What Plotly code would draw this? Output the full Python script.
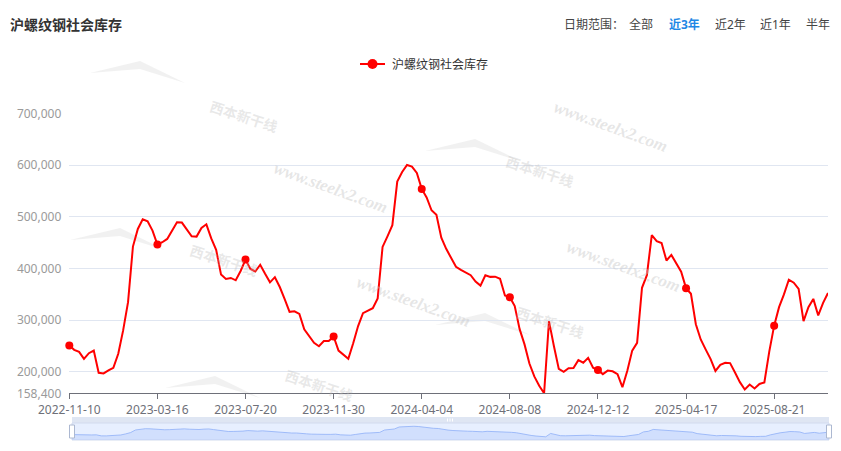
import pandas as pd
import plotly.graph_objects as go

W, H = 841, 451
BODY = 8  # the page body keeps its default 8px margin

# Weekly dates (National Day week 2023-10-05 has no record)
weeks = pd.date_range('2022-11-10', periods=157, freq='7D')
weeks = weeks[weeks != pd.Timestamp('2023-10-05')]
dates = weeks.strftime('%Y-%m-%d').tolist()

# 沪螺纹钢社会库存 (吨)
stock = [
    251000, 242500, 238600, 225000, 236000, 241000, 198000, 196800, 202600, 207700,
    234800, 280000, 334600, 442200, 476300, 495000, 491100, 473100, 446000, 450600,
    457000, 473100, 489200, 488600, 475000, 462200, 461500, 478300, 485300, 458000,
    436000, 388000, 379500, 381500, 377000, 395000, 417000, 399000, 394000, 407000,
    389500, 373000, 383000, 364000, 340500, 316000, 317000, 312000, 282000, 270000,
    256000, 249500, 259500, 259500, 268300, 241000, 233500, 225000, 255200, 288500,
    313500, 318700, 323000, 342000, 441500, 462000, 483500, 568000, 586500, 600000,
    597000, 584500, 553800, 537300, 512500, 503700, 459500, 437800, 419500, 403000,
    397000, 392000, 386800, 374600, 366800, 386800, 383600, 384000, 380000, 347500,
    344300, 327000, 282500, 253000, 216000, 191000, 173000, 158400, 298000, 250000,
    205500, 200000, 207000, 207500, 222500, 217500, 227000, 208000, 203500, 195500,
    202300, 201000, 195500, 170200, 202000, 241000, 256000, 362500, 386800, 464500,
    452800, 449000, 415300, 426000, 410000, 393500, 361800, 351000, 292000, 262500,
    243300, 225000, 201600, 213500, 217300, 216800, 198800, 180000, 165800, 175300,
    167700, 176400, 179400, 239000, 289300, 325000, 349700, 378200, 372300, 360200,
    298000, 325000, 341000, 309000, 333300, 352500,
]

label_step = 18
tick_dates = dates[::label_step]
y_ticks = [158400, 200000, 300000, 400000, 500000, 600000, 700000]
y_text = ['158,400', '200,000', '300,000', '400,000', '500,000', '600,000', '700,000']

range_buttons = ['全部', '近3年', '近2年', '近1年', '半年']
button_x = [627, 667, 713, 758, 804]
active_button = '近3年'

RED = '#ff0000'
FONT = 'Noto Sans, Noto Sans CJK SC, sans-serif'
FW, FH = W - BODY, H - BODY


def px(x):
    # window pixel -> paper fraction
    return (x - BODY) / FW


def py(y):
    return 1 - (y - BODY) / FH


fig = go.Figure()

# main series
fig.add_trace(go.Scatter(
    x=dates, y=stock, mode='lines',
    line=dict(color=RED, width=2),
    cliponaxis=False, showlegend=False,
    hovertemplate='%{x}<br>沪螺纹钢社会库存: %{y:,.0f}<extra></extra>'
))
fig.add_trace(go.Scatter(
    x=tick_dates, y=stock[::label_step], mode='markers',
    marker=dict(color=RED, size=8),
    cliponaxis=False, showlegend=False, hoverinfo='skip'
))

# data shadow in the zoom slider
span = max(stock) - min(stock)
fig.add_trace(go.Scatter(
    x=list(range(len(stock))), y=stock, mode='lines',
    xaxis='x2', yaxis='y2',
    line=dict(color='#8fb0f7', width=0.8),
    fill='tozeroy', fillcolor='rgba(143,176,247,0.25)',
    showlegend=False, hoverinfo='skip'
))

shapes = []
annotations = []

# legend drawn by hand (ECharts style)
shapes.append(dict(type='line', xref='paper', yref='paper',
                   x0=px(360), x1=px(385), y0=py(64), y1=py(64),
                   line=dict(color=RED, width=2)))
shapes.append(dict(type='circle', xref='paper', yref='paper',
                   x0=px(367.5), x1=px(377.5), y0=py(69), y1=py(59),
                   fillcolor=RED, line=dict(color=RED, width=0)))
annotations.append(dict(text='沪螺纹钢社会库存', x=px(390), y=py(64),
                        xref='paper', yref='paper', xanchor='left', yanchor='middle',
                        showarrow=False, font=dict(size=12, color='#333')))

# title
annotations.append(dict(text='<b>沪螺纹钢社会库存</b>', x=px(8), y=py(24),
                        xref='paper', yref='paper', xanchor='left', yanchor='middle',
                        showarrow=False, font=dict(size=14, color='#333')))

# date range selector
annotations.append(dict(text='日期范围：', x=px(562), y=py(24),
                        xref='paper', yref='paper', xanchor='left', yanchor='middle',
                        showarrow=False, font=dict(size=12, color='#444')))
for name, bx in zip(range_buttons, button_x):
    on = name == active_button
    annotations.append(dict(text=f'<b>{name}</b>' if on else name, x=px(bx), y=py(24),
                            xref='paper', yref='paper', xanchor='left', yanchor='middle',
                            showarrow=False,
                            font=dict(size=12, color='#1e88e5' if on else '#444')))

# watermarks
for wx, wy in [(330, 188), (413, 333), (672, 95), (685, 266)]:
    annotations.append(dict(text='<b><i>www.steelx2.com</i></b>', x=px(wx), y=py(wy),
                            xref='paper', yref='paper', showarrow=False, textangle=20,
                            font=dict(size=17, color='rgba(200,200,200,0.45)',
                                      family='Liberation Serif, serif')))
for lx, ly in [(180, 85), (515, 163), (160, 252), (525, 337), (255, 400)]:
    shapes.append(dict(type='path', xref='paper', yref='paper',
                       path=f'M {px(lx - 90)} {py(ly - 12)} L {px(lx - 40)} {py(ly - 24)} '
                            f'L {px(lx + 5)} {py(ly - 2)} L {px(lx - 40)} {py(ly - 16)} Z',
                       fillcolor='rgba(200,200,200,0.25)', line=dict(width=0), layer='below'))
    annotations.append(dict(text='<b>西本新干线</b>', x=px(lx + 25), y=py(ly + 8),
                            xref='paper', yref='paper', showarrow=False, textangle=18,
                            font=dict(size=14, color='rgba(190,190,190,0.35)',
                                      family='Noto Sans CJK SC')))

# zoom slider frame
shapes.append(dict(type='rect', xref='paper', yref='paper',
                   x0=px(72), x1=px(829), y0=py(423), y1=py(417),
                   fillcolor='#d2dbee', opacity=0.7, line=dict(width=0), layer='below'))
shapes.append(dict(type='rect', xref='paper', yref='paper',
                   x0=px(72), x1=px(829), y0=py(440), y1=py(423),
                   fillcolor='rgba(135,175,254,0.2)', line=dict(color='#d2dbee', width=1),
                   layer='below'))
for hx in [72, 829]:
    shapes.append(dict(type='rect', xref='paper', yref='paper',
                       x0=px(hx - 2.5), x1=px(hx + 2.5), y0=py(438), y1=py(425),
                       fillcolor='#fff', line=dict(color='#acb8d1', width=1)))
# grip marks on the move handle
for gx in [447.5, 450, 452.5]:
    shapes.append(dict(type='line', xref='paper', yref='paper',
                       x0=px(gx), x1=px(gx), y0=py(418.5), y1=py(421.5),
                       line=dict(color='#fff', width=1)))

fig.update_layout(
    width=FW, height=FH, autosize=False,
    margin=dict(l=0, r=0, t=0, b=0, pad=0, autoexpand=False),
    paper_bgcolor='white', plot_bgcolor='white',
    font=dict(family=FONT, size=12, color='#333'),
    showlegend=False,
    xaxis=dict(
        domain=[px(69.3), px(828)], type='category',
        range=[0, len(dates) - 1],
        tickmode='array', tickvals=tick_dates, ticktext=tick_dates,
        showgrid=False, zeroline=False, automargin=False,
        showline=True, linecolor='#6e7079', linewidth=1,
        ticks='outside', ticklen=5, tickcolor='#6e7079',
        tickfont=dict(size=12, color='#6e7079'),
        anchor='y',
    ),
    yaxis=dict(
        domain=[py(393.3), py(113.3)],
        range=[158400, 700000],
        tickmode='array', tickvals=y_ticks, ticktext=y_text,
        showgrid=True, gridcolor='#e0e6f1', gridwidth=1,
        zeroline=False, showline=False, ticks='', automargin=False,
        ticklabelstandoff=7,
        tickfont=dict(size=12, color='#9a9a9a'),
        anchor='x',
    ),
    xaxis2=dict(domain=[px(72), px(829)], range=[0, len(stock) - 1],
                visible=False, anchor='y2', fixedrange=True, automargin=False),
    yaxis2=dict(domain=[py(440), py(423)],
                range=[min(stock) - 0.3 * span, max(stock) + 0.3 * span],
                visible=False, anchor='x2', fixedrange=True, automargin=False),
    shapes=shapes,
    annotations=annotations,
)

fig.write_html('out.html')
